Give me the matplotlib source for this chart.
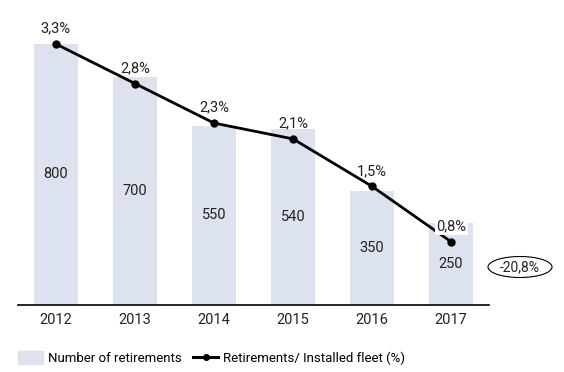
import matplotlib.pyplot as plt
from matplotlib.patches import Ellipse

# Data
years = ["2012", "2013", "2014", "2015", "2016", "2017"]
retirements = [800, 700, 550, 540, 350, 250]
share_pct = [3.3, 2.8, 2.3, 2.1, 1.5, 0.8]
share_labels = ["3,3%", "2,8%", "2,3%", "2,1%", "1,5%", "0,8%"]
change_label = "-20,8%"

bar_color = "#dce3ee"
txt_color = "#222222"
W, H = 564, 372
plt.rcParams["font.family"] = ["Roboto", "DejaVu Sans"]

fig = plt.figure(figsize=(W / 100, H / 100), dpi=100)
# axes placed in pixel coords: left 18, right 489, bottom 305, top 20
ax = fig.add_axes([18 / W, (H - 305) / H, (489 - 18) / W, (305 - 20) / H])
ymax = 800 * 285 / 261

x = list(range(len(years)))
ax.bar(x, retirements, width=0.56, color=bar_color, zorder=1)
ax.set_xlim(-0.48, 5.48)
ax.set_ylim(0, ymax)
for xi, v in zip(x, retirements):
    ax.text(xi, v / 2, str(v), ha="center", va="center", fontsize=10.5, color=txt_color)

ax.set_xticks(x)
ax.set_xticklabels(years, fontsize=10.5, color=txt_color)
ax.tick_params(axis="x", length=0, pad=6)
ax.set_yticks([])
for s in ["top", "left", "right"]:
    ax.spines[s].set_visible(False)
ax.spines["bottom"].set_color("black")
ax.spines["bottom"].set_linewidth(1.2)

# line on twin axis with matching zero
ax2 = ax.twinx()
ax2.set_ylim(0, 3.3 * ymax / 800)
ax2.plot(x, share_pct, color="black", lw=2, marker="o", ms=5, zorder=3)
for xi, v, lab in zip(x, share_pct, share_labels):
    bbox = dict(facecolor="white", edgecolor="none", pad=1) if xi == 5 else None
    ax2.annotate(lab, (xi, v), xytext=(0, 6), textcoords="offset points",
                 ha="center", va="bottom", fontsize=10.5, color=txt_color, bbox=bbox)
ax2.axis("off")

# change annotation ellipse
fig.text(520 / W, (H - 267) / H, change_label, ha="center", va="center",
         fontsize=10, color=txt_color)
ell = Ellipse((520 / W, (H - 267) / H), 64 / W, 21 / H, transform=fig.transFigure,
              facecolor="none", edgecolor="black", lw=0.8)
fig.patches.append(ell)

# legend
bar_h = plt.Rectangle((0, 0), 1, 1, color=bar_color)
line_h, = ax.plot([], [], color="black", lw=2.2, marker="o", ms=4)
fig.legend([bar_h, line_h], ["Number of retirements", "Retirements/ Installed fleet (%)"],
           loc="center left", bbox_to_anchor=(6 / W, (H - 358) / H), ncol=2,
           frameon=False, fontsize=9.5, handlelength=1.9, handleheight=1.2,
           columnspacing=0.9, handletextpad=0.35)

plt.savefig("out.png", dpi=100)
